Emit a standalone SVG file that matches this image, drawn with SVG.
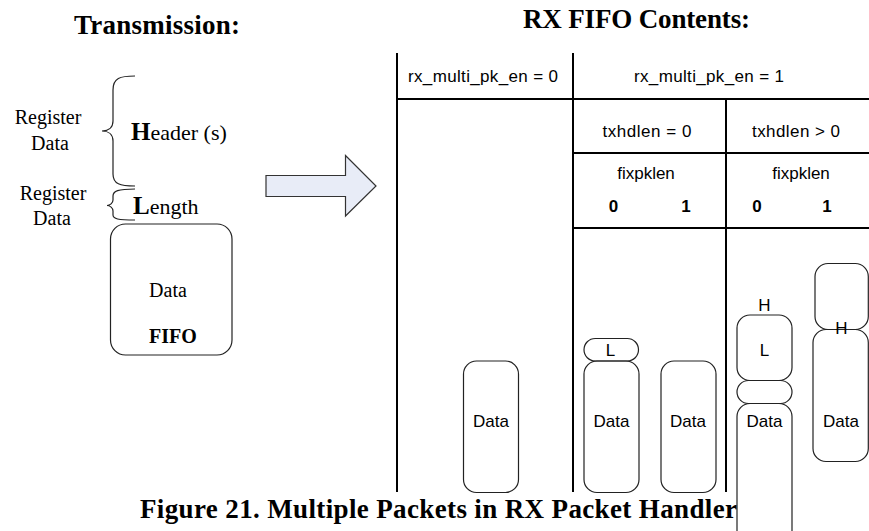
<svg xmlns="http://www.w3.org/2000/svg" width="869" height="531" viewBox="0 0 869 531">
<style>
.serif{font-family:"Liberation Serif","Times New Roman",serif;fill:#000}
.sans{font-family:"Liberation Sans",Arial,sans-serif;fill:#000;font-size:17px}
.title{font-weight:bold;font-size:27px}
.grid{stroke:#000;stroke-width:2;fill:none}
.box{fill:none;stroke:#222;stroke-width:1.2}
.brace{fill:none;stroke:#222;stroke-width:1.2}
</style>
<rect width="869" height="531" fill="#fff"/>
<text class="serif title" x="74" y="34" textLength="166">Transmission:</text>
<text class="serif title" x="523" y="28" textLength="227">RX FIFO Contents:</text>

<g id="header">
<path class="brace" d="M135,76 C120,76 113,78 113,90 V121 C113,128 108,131 102,131 C108,131 113,134 113,141 V174 C113,184 120,186 135,186"/>
<text class="serif" x="48" y="124" font-size="20" text-anchor="middle">Register</text>
<text class="serif" x="50" y="150" font-size="20" text-anchor="middle">Data</text>
<text class="serif" x="131" y="140"><tspan font-weight="bold" font-size="25">H</tspan><tspan font-size="22">eader (s)</tspan></text>
</g>
<g id="length">
<path class="brace" d="M135,189 C118,189 113,191 113,196 V200 C113,203 110,205.5 107,205.5 C110,205.5 113,208 113,211 V215 C113,219 118,220 135,220"/>
<text class="serif" x="53" y="200" font-size="20" text-anchor="middle">Register</text>
<text class="serif" x="52" y="225" font-size="20" text-anchor="middle">Data</text>
<text class="serif" x="133" y="214"><tspan font-weight="bold" font-size="25">L</tspan><tspan font-size="22">ength</tspan></text>
</g>
<g id="fifo">
<rect class="box" x="110.5" y="224" width="121.5" height="131" rx="15"/>
<text class="serif" x="168" y="297" font-size="20" text-anchor="middle">Data</text>
<text class="serif" x="173" y="343" font-size="20" font-weight="bold" text-anchor="middle">FIFO</text>
</g>
<g id="arrow">
<polygon points="266,175.5 345.5,175.5 345.5,155.5 376,186 345.5,216 345.5,196.5 266,196.5" fill="#E8ECF7" stroke="#333" stroke-width="1.2"/>
</g>

<g id="connectors">
<line class="grid" x1="397" y1="53" x2="397" y2="492"/>
<line class="grid" x1="573" y1="53" x2="573" y2="492"/>
<line class="grid" x1="726" y1="99" x2="726" y2="492"/>
<line class="grid" x1="396" y1="99" x2="869" y2="99"/>
<line class="grid" x1="572" y1="153" x2="869" y2="153"/>
<line class="grid" x1="572" y1="228" x2="869" y2="228"/>
</g>

<g id="table-labels">
<text class="sans" x="483" y="82" text-anchor="middle" textLength="150">rx_multi_pk_en = 0</text>
<text class="sans" x="709" y="82" text-anchor="middle" textLength="150">rx_multi_pk_en = 1</text>
<text class="sans" x="647" y="137" text-anchor="middle" textLength="89">txhdlen = 0</text>
<text class="sans" x="796" y="137" text-anchor="middle" textLength="88">txhdlen &gt; 0</text>
<text class="sans" x="646" y="179" text-anchor="middle">fixpklen</text>
<text class="sans" x="801" y="179" text-anchor="middle">fixpklen</text>
<text class="sans" x="613.5" y="212" text-anchor="middle" font-weight="bold">0</text>
<text class="sans" x="686" y="212" text-anchor="middle" font-weight="bold">1</text>
<text class="sans" x="757" y="212" text-anchor="middle" font-weight="bold">0</text>
<text class="sans" x="827" y="212" text-anchor="middle" font-weight="bold">1</text>
</g>

<g id="rx0-data">
<rect class="box" x="463.5" y="361" width="55" height="131.5" rx="13"/>
<text class="sans" x="491" y="427" text-anchor="middle">Data</text>
</g>
<g id="hd0-len">
<rect class="box" x="584" y="338.5" width="54.5" height="22.5" rx="11.25"/>
<text class="sans" x="610.5" y="356" text-anchor="middle">L</text>
</g>
<g id="hd0-data0">
<rect class="box" x="584" y="361" width="55" height="131.5" rx="13"/>
<text class="sans" x="611.5" y="427" text-anchor="middle">Data</text>
</g>
<g id="hd0-data1">
<rect class="box" x="661" y="361" width="55" height="131.5" rx="13"/>
<text class="sans" x="688" y="427" text-anchor="middle">Data</text>
</g>
<g id="hd1-hl">
<text class="sans" x="764.5" y="311" text-anchor="middle">H</text>
<rect class="box" x="737" y="315" width="55" height="65.5" rx="13"/>
<text class="sans" x="764.5" y="356" text-anchor="middle">L</text>
</g>
<g id="hd1-pill">
<rect class="box" x="737" y="380.5" width="55" height="23" rx="11.5"/>
</g>
<g id="hd1-data0">
<rect class="box" x="737" y="403.5" width="55" height="140" rx="13"/>
<text class="sans" x="764.5" y="427" text-anchor="middle">Data</text>
</g>
<g id="hd1-top">
<rect class="box" x="815" y="263.5" width="53.3" height="66" rx="13"/>
</g>
<g id="hd1-data1">
<rect class="box" x="813" y="329.5" width="55.3" height="132" rx="13"/>
<text class="sans" x="841.5" y="334" text-anchor="middle">H</text>
<text class="sans" x="841" y="427" text-anchor="middle">Data</text>
</g>

<text class="serif" x="140" y="518" font-size="27" font-weight="bold" textLength="597">Figure 21. Multiple Packets in RX Packet Handler</text>
</svg>
